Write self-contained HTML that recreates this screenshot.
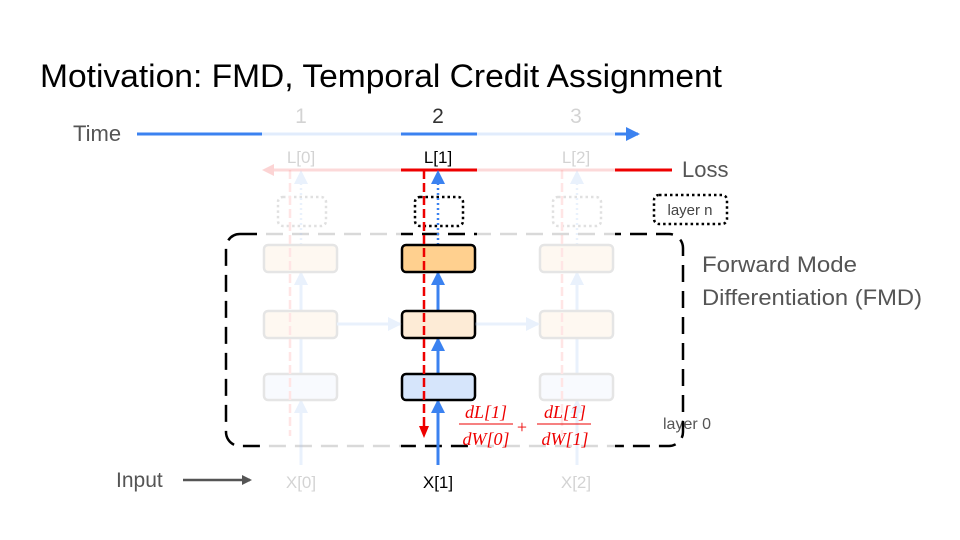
<!DOCTYPE html>
<html><head><meta charset="utf-8"><style>
html,body{margin:0;padding:0;background:#fff}
svg{display:block;font-family:"Liberation Sans",sans-serif}
</style></head><body>
<svg width="960" height="540" viewBox="0 0 960 540" xmlns="http://www.w3.org/2000/svg">
<defs>
<marker id="ab" markerWidth="14" markerHeight="14" refX="12" refY="7" orient="auto" markerUnits="userSpaceOnUse" viewBox="0 0 14 14"><path d="M0,0 L14,7 L0,14z" fill="#3b82f0"/></marker>
<marker id="abf" markerWidth="14" markerHeight="14" refX="12" refY="7" orient="auto" markerUnits="userSpaceOnUse" viewBox="0 0 14 14"><path d="M0,0 L14,7 L0,14z" fill="#aac8f5"/></marker>
<marker id="ab2" markerWidth="14" markerHeight="14" refX="12" refY="7" orient="auto" markerUnits="userSpaceOnUse" viewBox="0 0 14 14"><path d="M0,0 L14,7 L0,14z" fill="#3b82f0"/></marker>
<marker id="ag" markerWidth="10" markerHeight="10" refX="8" refY="5" orient="auto" markerUnits="userSpaceOnUse" viewBox="0 0 10 10"><path d="M0,0 L10,5 L0,10z" fill="#555"/></marker>
</defs>
<text x="40" y="87" font-size="32" fill="#000" textLength="682" lengthAdjust="spacingAndGlyphs">Motivation: FMD, Temporal Credit Assignment</text>
<text x="73" y="141" font-size="22" fill="#555">Time</text>
<line x1="137" y1="134" x2="638" y2="134" stroke="#3b82f0" stroke-width="3" marker-end="url(#ab2)"/>
<text x="682" y="177" font-size="22" fill="#555">Loss</text>
<line x1="672" y1="170" x2="270" y2="170" stroke="#e00" stroke-width="3"/>
<rect x="654" y="195" width="73" height="29" rx="5" fill="none" stroke="#000" stroke-width="2.5" stroke-dasharray="2.5,3"/>
<text x="690" y="215" font-size="15" fill="#444" text-anchor="middle">layer n</text>
<text x="702" y="272" font-size="22" fill="#555" textLength="155" lengthAdjust="spacingAndGlyphs">Forward Mode</text>
<text x="702" y="305" font-size="22" fill="#555" textLength="220" lengthAdjust="spacingAndGlyphs">Differentiation (FMD)</text>
<text x="663" y="429" font-size="16" fill="#555">layer 0</text>
<text x="116" y="487" font-size="21" fill="#555">Input</text>
<line x1="183" y1="480" x2="250" y2="480" stroke="#555" stroke-width="2.5" marker-end="url(#ag)"/>
<rect x="226" y="234" width="457" height="212" rx="14" fill="none" stroke="#000" stroke-width="2.5" stroke-dasharray="17,9"/>
<g>
<text x="438" y="123" font-size="21" fill="#333" text-anchor="middle">2</text>
<text x="438" y="163" font-size="17" fill="#000" text-anchor="middle">L[1]</text>
<text x="438" y="488" font-size="17" fill="#000" text-anchor="middle">X[1]</text>
<rect x="415" y="197" width="48" height="29" rx="5" fill="none" stroke="#000" stroke-width="2.5" stroke-dasharray="2.5,3"/>
<line x1="438" y1="465" x2="438" y2="401" stroke="#3b82f0" stroke-width="3" marker-end="url(#ab)"/>
<line x1="438" y1="373" x2="438" y2="339" stroke="#3b82f0" stroke-width="3" marker-end="url(#ab)"/>
<line x1="438" y1="310" x2="438" y2="273" stroke="#3b82f0" stroke-width="3" marker-end="url(#ab)"/>
<line x1="438" y1="245" x2="438" y2="182" stroke="#3b82f0" stroke-width="2.5" stroke-dasharray="2,3"/>
<path d="M431,184 L438,170 L445,184z" fill="#3b82f0"/>
<rect x="402" y="245" width="73" height="27" rx="4" fill="#ffd08f" stroke="#000" stroke-width="2.5"/>
<rect x="402" y="311" width="73" height="27" rx="4" fill="#fdebd6" stroke="#000" stroke-width="2.5"/>
<rect x="402" y="374" width="73" height="26" rx="4" fill="#d6e5fb" stroke="#000" stroke-width="2.5"/>
<line x1="424" y1="170" x2="424" y2="428" stroke="#e00" stroke-width="2.5" stroke-dasharray="9,4"/>
<path d="M419,426 L424,438 L429,426z" fill="#e00"/>
</g>
<g fill="#fff" opacity="0.85">
<rect x="262" y="131" width="139" height="6"/><rect x="477" y="131" width="138" height="6"/>
<rect x="262" y="167" width="139" height="6"/><rect x="477" y="167" width="138" height="6"/>
<rect x="262" y="231" width="139" height="6"/><rect x="477" y="231" width="138" height="6"/>
<rect x="262" y="443" width="139" height="6"/><rect x="477" y="443" width="138" height="6"/>
</g>
<path d="M274,164 L262,170 L274,176z" fill="#fcd4d4"/>
<g opacity="0.25">
<text x="301" y="123" font-size="21" fill="#555" text-anchor="middle">1</text>
<text x="301" y="163" font-size="17" fill="#555" text-anchor="middle">L[0]</text>
<text x="301" y="488" font-size="17" fill="#555" text-anchor="middle">X[0]</text>
<rect x="278" y="197" width="48" height="29" rx="5" fill="none" stroke="#888" stroke-width="2.5" stroke-dasharray="2.5,3"/>
<line x1="301" y1="465" x2="301" y2="401" stroke="#aac8f5" stroke-width="3" marker-end="url(#abf)"/>
<line x1="301" y1="373" x2="301" y2="273" stroke="#aac8f5" stroke-width="3" marker-end="url(#abf)"/>
<line x1="301" y1="245" x2="301" y2="172" stroke="#aac8f5" stroke-width="2.5" stroke-dasharray="2,3" marker-end="url(#abf)"/>
<rect x="264" y="245" width="73" height="27" rx="4" fill="#fde7c8" stroke="#999" stroke-width="2.5"/>
<rect x="264" y="311" width="73" height="27" rx="4" fill="#fde7c8" stroke="#999" stroke-width="2.5"/>
<rect x="264" y="374" width="73" height="26" rx="4" fill="#e6eefc" stroke="#999" stroke-width="2.5"/>
<line x1="290" y1="170" x2="290" y2="436" stroke="#f99" stroke-width="2.5" stroke-dasharray="9,4"/>
<line x1="337" y1="324" x2="400" y2="324" stroke="#aac8f5" stroke-width="3" marker-end="url(#abf)"/>
<text x="576" y="123" font-size="21" fill="#555" text-anchor="middle">3</text>
<text x="576" y="163" font-size="17" fill="#555" text-anchor="middle">L[2]</text>
<text x="576" y="488" font-size="17" fill="#555" text-anchor="middle">X[2]</text>
<rect x="553" y="197" width="48" height="29" rx="5" fill="none" stroke="#888" stroke-width="2.5" stroke-dasharray="2.5,3"/>
<line x1="577" y1="465" x2="577" y2="401" stroke="#aac8f5" stroke-width="3" marker-end="url(#abf)"/>
<line x1="577" y1="373" x2="577" y2="273" stroke="#aac8f5" stroke-width="3" marker-end="url(#abf)"/>
<line x1="577" y1="245" x2="577" y2="172" stroke="#aac8f5" stroke-width="2.5" stroke-dasharray="2,3" marker-end="url(#abf)"/>
<rect x="540" y="245" width="73" height="27" rx="4" fill="#fde7c8" stroke="#999" stroke-width="2.5"/>
<rect x="540" y="311" width="73" height="27" rx="4" fill="#fde7c8" stroke="#999" stroke-width="2.5"/>
<rect x="540" y="374" width="73" height="26" rx="4" fill="#e6eefc" stroke="#999" stroke-width="2.5"/>
<line x1="562" y1="170" x2="562" y2="436" stroke="#f99" stroke-width="2.5" stroke-dasharray="9,4"/>
<line x1="475" y1="324" x2="538" y2="324" stroke="#aac8f5" stroke-width="3" marker-end="url(#abf)"/>
</g>
<g font-family="Liberation Serif,serif" font-style="italic" font-size="18" fill="#e00" text-anchor="middle">
<text x="486" y="418">dL[1]</text><line x1="459" y1="424" x2="513" y2="424" stroke="#e00" stroke-width="1"/>
<text x="486" y="445">dW[0]</text>
<text x="522" y="433" font-style="normal">+</text>
<text x="565" y="418">dL[1]</text><line x1="537" y1="424" x2="591" y2="424" stroke="#e00" stroke-width="1"/>
<text x="565" y="445">dW[1]</text>
</g>
</svg>
</body></html>
